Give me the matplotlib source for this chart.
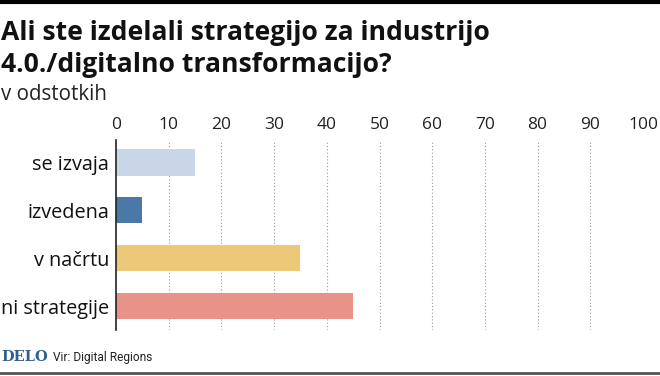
import matplotlib.pyplot as plt
from matplotlib.lines import Line2D

categories = ['se izvaja', 'izvedena', 'v načrtu', 'ni strategije']
values = [15, 5, 35, 45]
colors = ['#c9d6e8', '#4a78a8', '#ecc878', '#e8938a']
ticks = list(range(0, 101, 10))

plt.rcParams['font.family'] = ['Open Sans', 'DejaVu Sans']

fig = plt.figure(figsize=(6.6, 3.76), dpi=100)
ax = fig.add_axes([116 / 660, 1 - 330 / 376, (643 - 116) / 660, 190 / 376])

ax.barh(range(len(categories)), values, height=0.56, color=colors, zorder=2)
ax.set_xlim(0, 100)
ax.set_ylim(3.5, -0.46)
ax.set_yticks(range(len(categories)))
ax.set_yticklabels(categories, fontsize=14.3, color='#111111')
ax.set_xticks(ticks)
ax.xaxis.tick_top()
ax.tick_params(axis='x', length=0, labelsize=12.5, pad=5, colors='#222222')
ax.tick_params(axis='y', length=0, pad=5)
for t in ticks[1:]:
    ax.axvline(t, color='#9a9a9a', lw=0.8, ls=(0, (1, 2)), zorder=1)
for s in ['top', 'right', 'bottom']:
    ax.spines[s].set_visible(False)
ax.spines['left'].set_color('#222222')
ax.spines['left'].set_linewidth(1.2)

# header bar and footer rule
fig.add_artist(Line2D([0, 1], [1 - 1.5 / 376, 1 - 1.5 / 376], color='black', lw=3))
fig.add_artist(Line2D([0, 1], [1 - 373 / 376, 1 - 373 / 376], color='#555555', lw=2))

fig.text(0.002, 1 - 40 / 376, 'Ali ste izdelali strategijo za industrijo',
         fontsize=19.1, fontweight='bold', color='#111111', va='baseline')
fig.text(0.002, 1 - 72 / 376, '4.0./digitalno transformacijo?',
         fontsize=19.1, fontweight='bold', color='#111111', va='baseline')
fig.text(0.002, 1 - 100 / 376, 'v odstotkih', fontsize=14.8, color='#222222', va='baseline')

fig.text(0.002, 1 - 361 / 376, 'DELO', fontsize=10.5, fontweight='bold', family='DejaVu Serif',
         color='#2f5f8f', va='baseline')
fig.text(53 / 660, 1 - 361 / 376, 'Vir: Digital Regions', fontsize=8.6, color='#222222',
         family='Roboto', va='baseline')

fig.savefig('out.png', dpi=100)
